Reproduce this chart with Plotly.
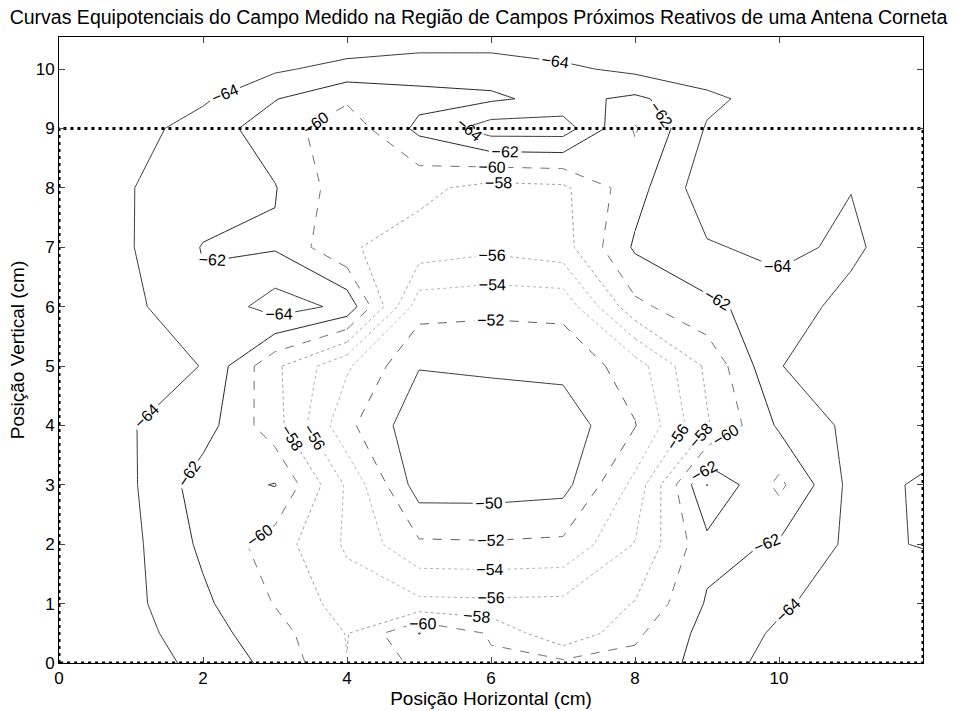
import plotly.graph_objects as go

# grid of measurement positions (cm)
x_cm = [0, 1, 2, 3, 4, 5, 6, 7, 8, 9, 10, 11, 12]
y_cm = [0, 0.5, 1, 2, 3, 4, 5, 6, 7, 8, 9, 9.5, 10, 10.5]

# measured field (dB) per row of constant vertical position
z_y0   = [-65.6, -65.1, -63.4, -61.4, -58.05, -60.5, -60.3, -60.5, -60.6, -62.75, -64.9, -65.5, -65.6]
z_y05  = [-65.2, -64.75, -62.85, -60.8, -57.9, -62.05, -59.8, -56.2, -59.6, -62.7, -64.3, -65.2, -65.4]
z_y1   = [-65.3, -64.48, -62.4, -59.9, -57.0, -56.5, -56.4, -56.5, -58.1, -62.2, -63.7, -65.0, -65.2]
z_y2   = [-65.4, -64.5, -61.6, -59.0, -55.7, -52.3, -52.2, -52.4, -56.1, -61.4, -62.2, -64.4, -63.9]
z_y3   = [-65.5, -64.3, -61.0, -62.1, -55.7, -49.0, -49.0, -49.3, -54.6, -64.05, -59.5, -64.6, -63.8]
z_y4   = [-65.5, -64.1, -62.9, -58.8, -52.5, -48.6, -49.0, -48.8, -51.9, -57.8, -62.3, -64.5, -64.8]
z_y5   = [-65.8, -64.8, -63.95, -58.4, -54.3, -50.1, -50.25, -50.56, -53.0, -58.4, -63.95, -64.8, -65.0]
z_y6   = [-65.8, -64.5, -62.3, -65.0, -63.5, -52.8, -52.5, -52.6, -59.5, -61.5, -63.1, -64.6, -65.3]
z_y7   = [-65.7, -64.1, -61.9, -61.8, -58.2, -57.2, -56.5, -57.2, -62.3, -63.8, -64.5, -63.6, -65.5]
z_y8   = [-65.8, -64.05, -63.1, -62.1, -58.8, -58.5, -57.3, -57.6, -61.2, -65.2, -65.0, -64.05, -65.5]
z_y9   = [-66.0, -64.8, -63.1, -60.9, -58.8, -62.5, -65.0, -65.0, -59.8, -64.2, -65.0, -65.3, -65.5]
z_y95  = [-66.2, -65.5, -64.3, -62.1, -60.3, -61.4, -61.7, -62.6, -61.6, -63.5, -65.0, -65.4, -65.6]
z_y10  = [-66.3, -65.8, -65.0, -64.3, -63.3, -62.8, -62.8, -63.6, -64.5, -65.2, -65.6, -65.8, -66.0]
z_y105 = [-66.5, -66.3, -66.0, -65.8, -65.3, -65.0, -65.0, -65.3, -65.6, -65.8, -66.0, -66.2, -66.3]

z_rows = [z_y0, z_y05, z_y1, z_y2, z_y3, z_y4, z_y5, z_y6, z_y7, z_y8, z_y9, z_y95, z_y10, z_y105]

# contour levels and their appearance
levels = [-64, -62, -60, -58, -56, -54, -52, -50]
level_colors = ["#3a3a3a", "#262626", "#6e6e6e", "#9c9c9c", "#adadad", "#b3b3b3", "#5c5c5c", "#3c3c3c"]
level_dashes = ["solid", "solid", "dash", "dot", "dot", "dot", "dash", "solid"]

# aperture boundary (dotted rectangle)
boundary_x = [0, 0, 12, 12, 0]
boundary_y = [0, 9, 9, 0, 0]

x_ticks = [0, 2, 4, 6, 8, 10]
y_ticks = [0, 1, 2, 3, 4, 5, 6, 7, 8, 9, 10]

# blocks of the grid (index ranges, sharing their border nodes) so that each
# piece of a curve gets its own inline label, as clabel does
col_blocks = [(0, 4), (4, 8), (8, 12)]
row_blocks = [(0, 6), (6, 13)]

FONT = "Liberation Sans, Arial, sans-serif"
TICK_FS = 17
TITLE_FS = 19

fig = go.Figure()
for (c0, c1) in col_blocks:
    for (r0, r1) in row_blocks:
        xs = x_cm[c0:c1 + 1]
        ys = y_cm[r0:r1 + 1]
        zs = [row[c0:c1 + 1] for row in z_rows[r0:r1 + 1]]
        for lv, col, dsh in zip(levels, level_colors, level_dashes):
            fig.add_trace(go.Contour(
                x=xs, y=ys, z=zs,
                autocontour=False,
                contours=dict(start=lv, end=lv, size=2, coloring="lines",
                              showlabels=True,
                              labelfont=dict(size=16, color="black", family=FONT)),
                colorscale=[[0, col], [1, col]],
                line=dict(width=1, dash=dsh, smoothing=0),
                showscale=False,
                hoverinfo="skip",
            ))

fig.add_trace(go.Scatter(
    x=boundary_x, y=boundary_y, mode="lines",
    line=dict(color="black", width=3, dash="3px,4px"),
    cliponaxis=False, hoverinfo="skip", showlegend=False,
))

fig.update_layout(
    width=957, height=711,
    margin=dict(l=59, r=34, t=37, b=48, autoexpand=False),
    paper_bgcolor="white", plot_bgcolor="white",
    showlegend=False,
    font=dict(family=FONT, size=TICK_FS, color="black"),
    title=dict(text="Curvas Equipotenciais do Campo Medido na Região de Campos Próximos Reativos de uma Antena Corneta",
               x=0.5, xref="container", xanchor="center",
               y=1 - 17 / 711, yref="container", yanchor="middle",
               font=dict(size=19.5, family=FONT, color="black")),
    xaxis=dict(range=[0, 12], tickvals=x_ticks, ticks="inside", ticklen=6,
               showline=True, linecolor="black", linewidth=1, mirror="allticks",
               showgrid=False, zeroline=False, automargin=False,
               title=dict(text="Posição Horizontal (cm)", standoff=0, font=dict(size=TITLE_FS)),
               tickfont=dict(size=TICK_FS)),
    yaxis=dict(range=[0, 10.54], tickvals=y_ticks, ticks="inside", ticklen=6,
               showline=True, linecolor="black", linewidth=1, mirror="allticks",
               showgrid=False, zeroline=False, automargin=False,
               title=dict(text="Posição Vertical (cm)", standoff=6, font=dict(size=TITLE_FS)),
               tickfont=dict(size=TICK_FS)),
)

fig.write_html("out.html", config={"displayModeBar": False},
               post_script="document.body.style.margin='0px';")
